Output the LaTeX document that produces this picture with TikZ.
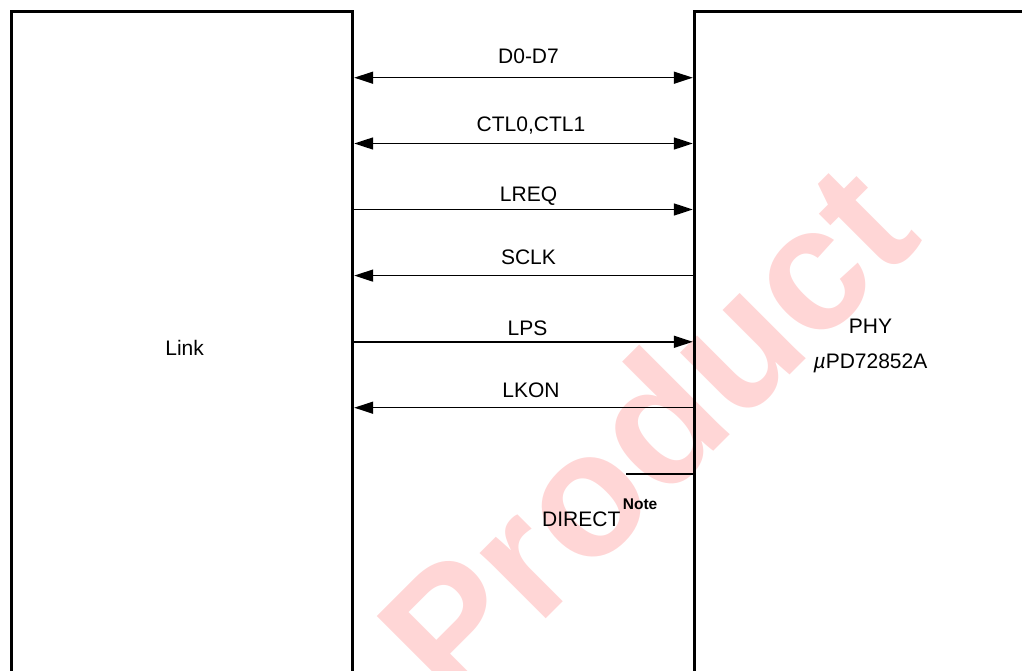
\documentclass[tikz,border=0pt]{standalone}
\usepackage{fontspec}
\setmainfont{Liberation Sans}
\usetikzlibrary{arrows.meta}
\definecolor{wmpink}{RGB}{255,214,214}
\begin{document}
\begin{tikzpicture}[x=1pt,y=-1pt,
  box/.style={draw, line width=3pt, rectangle, inner sep=0pt, align=center,
    font=\fontsize{21}{35}\selectfont},
  sig/.style={line width=1.5pt},
  tipr/.style={-{Triangle[length=19pt,width=12pt]}},
  tipl/.style={{Triangle[length=19pt,width=12pt]}-},
  tipb/.style={{Triangle[length=19pt,width=12pt]}-{Triangle[length=19pt,width=12pt]}},
  lab/.style={font=\fontsize{21}{25}\selectfont, anchor=base, inner sep=0pt},
  wmark/.style={font=\fontsize{176}{176}\selectfont\bfseries, text=wmpink,
    rotate=45, anchor=base, inner sep=0pt}]
\useasboundingbox (0,0) rectangle (1022,671);
\clip (0,0) rectangle (1022,671);
% watermark
\node[wmark] (wm) at (690,475) {Product};
% boxes
\node[box, minimum width=341.2pt, minimum height=672.6pt] (link) at (182.1,348) {\hspace*{5pt}Link};
\node[box, minimum width=352.4pt, minimum height=667.6pt] (phy) at (870.5,345.5)
  {PHY\\\textit{µ}PD72852A};
% signal rows
\coordinate (r1) at (0,77.7);
\coordinate (r2) at (0,143.5);
\coordinate (r3) at (0,209.5);
\coordinate (r4) at (0,275.6);
\coordinate (r5) at (0,341.8);
\coordinate (r6) at (0,407.7);
\coordinate (r7) at (0,474);
\coordinate (dend) at (626,474);
\draw[sig,tipb] (link.east |- r1) -- (phy.west |- r1);
\draw[sig,tipb] (link.east |- r2) -- (phy.west |- r2);
\draw[sig,tipr] (link.east |- r3) -- (phy.west |- r3);
\draw[sig,tipl] (link.east |- r4) -- (phy.west |- r4);
\draw[sig,tipr] (link.east |- r5) -- (phy.west |- r5);
\draw[sig,tipl] (link.east |- r6) -- (phy.west |- r6);
\draw[sig] (phy.west |- r7) -- (dend);
% labels
\node[lab] (l1) at (528.5,63.5) {D0-D7};
\node[lab] (l2) at (531,131.8) {CTL0,CTL1};
\node[lab] (l3) at (528.5,201.7) {LREQ};
\node[lab] (l4) at (528.5,264.3) {SCLK};
\node[lab] (l5) at (527.5,335) {LPS};
\node[lab] (l6) at (531,397.3) {LKON};
\node[lab, anchor=base west] (l7) at (542,526.7)
  {DIRECT\kern2.5pt\raisebox{17.4pt}{\fontsize{15.5}{17}\selectfont\bfseries Note}};
\end{tikzpicture}
\end{document}
